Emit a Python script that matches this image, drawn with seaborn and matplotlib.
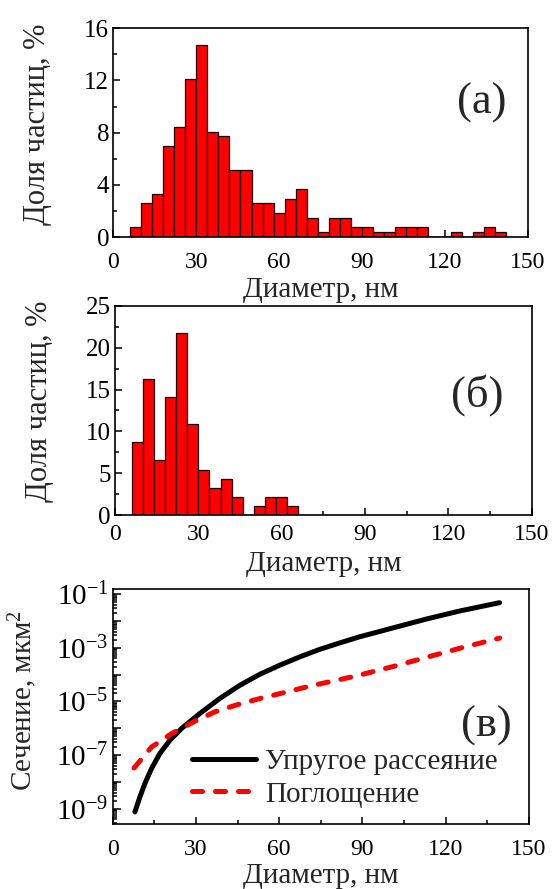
import numpy as np
import pandas as pd
import matplotlib
matplotlib.use("Agg")
import matplotlib.pyplot as plt
import matplotlib.ticker as mticker
import seaborn as sns

# ---------------- data ----------------
centers_a = list(range(8, 141, 4))
share_a = [0.74, 2.59, 3.33, 7.0, 8.46, 12.15, 14.72, 8.08, 7.72, 5.15, 5.15,
           2.59, 2.59, 1.87, 2.95, 3.69, 1.49, 0.38, 1.49, 1.49, 0.74, 0.74,
           0.38, 0.38, 0.74, 0.74, 0.74, 0.0, 0.0, 0.38, 0.0, 0.38, 0.74, 0.38]

centers_b = list(range(8, 65, 4))
share_b = [8.69, 16.27, 6.54, 14.15, 21.77, 10.88, 5.42, 3.23, 4.35, 2.15,
           0.0, 1.04, 2.15, 2.15, 1.04]

diam_scat = [8.0, 9.8, 11.6, 14.0, 17.0, 20.6, 24.8, 31.4, 38.6, 45.8, 53.0,
             60.2, 67.4, 74.6, 81.8, 89.0, 95.6, 101.0, 113.0, 125.0, 139.4]
log_scat = [-9.12, -8.56, -8.06, -7.50, -6.94, -6.45, -6.01, -5.45, -4.89,
            -4.40, -3.99, -3.65, -3.34, -3.06, -2.82, -2.59, -2.41, -2.26,
            -1.93, -1.63, -1.32]
diam_abs = [7.7, 14.0, 21.2, 29.0, 37.0, 45.0, 54.2, 62.6, 71.0, 79.4, 87.8,
            95.6, 101.0, 113.0, 125.0, 139.4]
log_abs = [-7.48, -6.70, -6.20, -5.77, -5.38, -5.12, -4.86, -4.65, -4.43,
           -4.24, -4.05, -3.84, -3.70, -3.36, -3.02, -2.64]

xlabel = "Диаметр, нм"
ylabel_hist = "Доля частиц, %"
ylabel_cs = "Сечение, мкм$^2$"
legend_labels = ["Упругое рассеяние", "Поглощение"]
panel_labels = ["(a)", "(б)", "(в)"]

# ---------------- style ----------------
sns.set_theme(style="ticks")
plt.rcParams["font.family"] = ["Liberation Serif", "DejaVu Serif"]
plt.rcParams["mathtext.fontset"] = "custom"
plt.rcParams["mathtext.rm"] = "Liberation Serif"
plt.rcParams["mathtext.it"] = "Liberation Serif:italic"
plt.rcParams["axes.unicode_minus"] = False
plt.rcParams["axes.linewidth"] = 1.2
plt.rcParams["axes.edgecolor"] = "black"

W, H = 552.0, 889.0
fig = plt.figure(figsize=(W / 100, H / 100), dpi=100)
# axes boxes in pixels: left, top, right, bottom
box_a = (113.3, 28.3, 528.0, 237.0)
box_b = (115.0, 306.0, 531.7, 515.0)
box_c = (112.7, 589.0, 529.0, 824.0)


def add_ax(box):
    l, t, r, b = box
    return fig.add_axes([l / W, 1 - b / H, (r - l) / W, (b - t) / H])


ax_a = add_ax(box_a)
ax_b = add_ax(box_b)
ax_c = add_ax(box_c)

XTICK_FS = 17
YTICK_FS = 18
LABEL_FS = 21
PANEL_FS = 32


def style_axis(ax, xpad, ytick_fs=YTICK_FS, major_len=5, minor_len=3):
    ax.tick_params(which="both", direction="in", top=False, right=False,
                   colors="black", width=1.1)
    ax.tick_params(which="major", length=major_len)
    ax.tick_params(which="minor", length=minor_len)
    ax.tick_params(axis="x", which="major", pad=xpad, labelsize=XTICK_FS)
    ax.tick_params(axis="y", which="major", pad=3, labelsize=ytick_fs)
    for s in ax.spines.values():
        s.set_visible(True)
        s.set_color("black")
        s.set_linewidth(1.2)


def place_labels(ax, box, xl_y, yl_x, yl_y):
    """Put axis labels at pixel centres given for the figure."""
    l, t, r, b = box
    ax.xaxis.set_label_coords(0.5, (b - xl_y) / (b - t))
    ax.xaxis.label.set_verticalalignment("center")
    ax.yaxis.set_label_coords((yl_x - l) / (r - l), (b - yl_y) / (b - t))
    ax.yaxis.label.set_verticalalignment("center")


# panel (a)
df_a = pd.DataFrame({"d": centers_a, "w": share_a})
sns.histplot(data=df_a, x="d", weights="w", binwidth=4, binrange=(6, 142),
             color="#ff0000", alpha=1.0, edgecolor="#1a0000", linewidth=0.9,
             ax=ax_a)
ax_a.set_xlim(0, 150)
ax_a.set_ylim(0, 16)
ax_a.xaxis.set_major_locator(mticker.MultipleLocator(30))
ax_a.xaxis.set_minor_locator(mticker.MultipleLocator(15))
ax_a.yaxis.set_major_locator(mticker.MultipleLocator(4))
ax_a.yaxis.set_minor_locator(mticker.MultipleLocator(2))
style_axis(ax_a, xpad=10.8)
ax_a.set_xlabel(xlabel, fontsize=LABEL_FS)
ax_a.set_ylabel(ylabel_hist, fontsize=LABEL_FS + 1)
place_labels(ax_a, box_a, 290, 38, 124)
ax_a.text(0.889, 0.644, panel_labels[0], transform=ax_a.transAxes,
          fontsize=PANEL_FS, ha="center", va="center")

# panel (b)
df_b = pd.DataFrame({"d": centers_b, "w": share_b})
sns.histplot(data=df_b, x="d", weights="w", binwidth=4, binrange=(6, 66),
             color="#ff0000", alpha=1.0, edgecolor="#1a0000", linewidth=0.9,
             ax=ax_b)
ax_b.set_xlim(0, 150)
ax_b.set_ylim(0, 25)
ax_b.xaxis.set_major_locator(mticker.MultipleLocator(30))
ax_b.xaxis.set_minor_locator(mticker.MultipleLocator(15))
ax_b.yaxis.set_major_locator(mticker.MultipleLocator(5))
ax_b.yaxis.set_minor_locator(mticker.MultipleLocator(2.5))
style_axis(ax_b, xpad=6.6)
ax_b.set_xlabel(xlabel, fontsize=LABEL_FS)
ax_b.set_ylabel(ylabel_hist, fontsize=LABEL_FS + 1)
place_labels(ax_b, box_b, 564, 40, 401)
ax_b.text(0.870, 0.574, panel_labels[1], transform=ax_b.transAxes,
          fontsize=PANEL_FS, ha="center", va="center")

# panel (c)
df_s = pd.DataFrame({"d": diam_scat, "s": np.power(10.0, log_scat)})
df_p = pd.DataFrame({"d": diam_abs, "s": np.power(10.0, log_abs)})
sns.lineplot(data=df_s, x="d", y="s", color="black", linewidth=3.6,
             solid_capstyle="round", solid_joinstyle="round",
             label=legend_labels[0], ax=ax_c)
sns.lineplot(data=df_p, x="d", y="s", color="#ff0000", linewidth=3.6,
             dashes=(2.0, 2.6), dash_capstyle="round",
             label=legend_labels[1], ax=ax_c)
ax_c.set_yscale("log")
ax_c.set_xlim(0, 150)
ax_c.set_ylim(10 ** -9.57, 10 ** -0.81)
ax_c.xaxis.set_major_locator(mticker.MultipleLocator(30))
ax_c.xaxis.set_minor_locator(mticker.MultipleLocator(15))
ax_c.yaxis.set_major_locator(mticker.LogLocator(base=10, numticks=30))
ax_c.yaxis.set_minor_locator(mticker.LogLocator(base=10, subs=np.arange(2, 10),
                                                 numticks=30))
ax_c.yaxis.set_minor_formatter(mticker.NullFormatter())


def odd_exp(v, pos):
    e = int(round(np.log10(v)))
    if e % 2 == 0:
        return ""
    return "$10^{%d}$" % e


ax_c.yaxis.set_major_formatter(mticker.FuncFormatter(odd_exp))
style_axis(ax_c, xpad=10.8, ytick_fs=21)
ax_c.tick_params(axis="y", which="major", length=6)
ax_c.tick_params(axis="y", which="minor", length=3)
ax_c.set_xlabel(xlabel, fontsize=LABEL_FS)
ax_c.set_ylabel(ylabel_cs, fontsize=21)
place_labels(ax_c, box_c, 876, 23, 701)
ax_c.text(0.897, 0.419, panel_labels[2], transform=ax_c.transAxes,
          fontsize=PANEL_FS, ha="center", va="center")
leg = ax_c.legend(loc="lower left", bbox_to_anchor=(0.19, 0.07), frameon=False,
                  fontsize=21, handlelength=2.2, handletextpad=0.3,
                  labelspacing=0.2, borderpad=0.0, borderaxespad=0.0)

fig.savefig("out.png", dpi=100)
